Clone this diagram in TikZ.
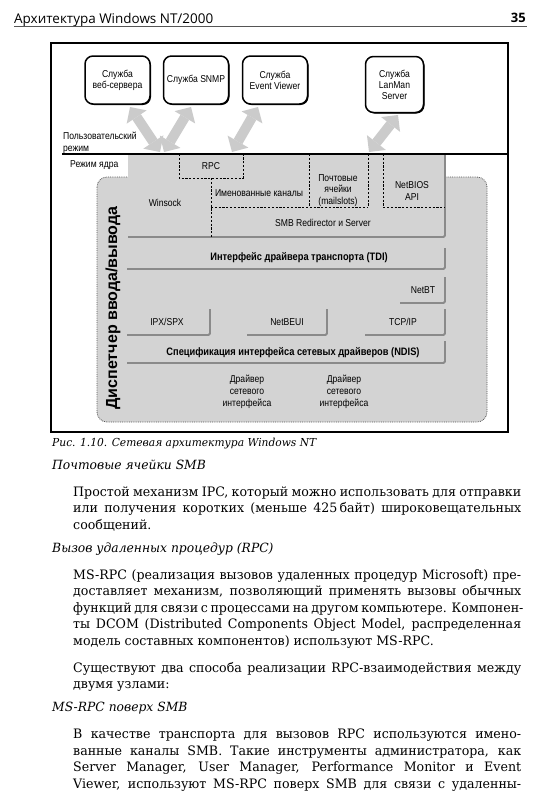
\documentclass[tikz,border=0pt]{standalone}
\usepackage{fontspec}
\usetikzlibrary{arrows.meta,shadows}
\setmainfont{DejaVu Serif}[FakeStretch=0.97]
\newfontfamily\diagfont{Liberation Sans}[FakeStretch=0.86]
\newfontfamily\diagwide{Liberation Sans}
\newfontfamily\headfont{Open Sans}
\definecolor{kgray}{HTML}{D3D3D3}
\definecolor{agray}{HTML}{CBCBCB}
\definecolor{sgray}{HTML}{8A8A8A}
\definecolor{dgray}{HTML}{555555}
\tikzset{
  svc/.style={draw=black, line width=1.5pt, rounded corners=8pt, fill=white,
    font=\diagfont\fontsize{10}{11}\selectfont, align=center, inner sep=0pt,
    minimum width=65pt, minimum height=48pt,
    drop shadow={shadow xshift=1pt, shadow yshift=-1pt, fill=black, opacity=1}},
  lbl/.style={font=\diagfont\fontsize{10}{12}\selectfont, align=center, inner sep=0pt},
  blbl/.style={font=\diagfont\bfseries\fontsize{10.8}{12}\selectfont, align=center, inner sep=0pt},
  garrow/.style={draw=agray, line width=10pt,
    {Triangle[length=12pt,width=24pt,line width=0pt]}-{Triangle[length=12pt,width=24pt,line width=0pt]}},
  shade/.style={draw=sgray, line width=1.8pt, rounded corners=1.5pt},
  dsh/.style={draw=black, line width=0.6pt, dash pattern=on 2.2pt off 1.6pt},
  bodyline/.style={anchor=base west, inner sep=0pt, font=\fontsize{13}{15}\selectfont},
  itline/.style={anchor=base west, inner sep=0pt, font=\itshape\fontsize{12.7}{15}\selectfont},
}
\newcommand\jline[1]{\makebox[448pt][s]{#1}}
\begin{document}
\begin{tikzpicture}[x=1pt,y=-1pt]
\useasboundingbox (0,0) rectangle (540,795);
\fill[white] (0,0) rectangle (540,795);

% header
\node[anchor=base west, inner sep=0pt] (hdr) at (14,23) {\resizebox{199pt}{!}{\headfont Архитектура Windows NT/2000}};
\node[anchor=base east, inner sep=0pt] (pgno) at (526,23) {\headfont\bfseries\fontsize{13}{15}\selectfont 35};
\draw[line width=1.2pt, dgray] (14,26.5) -- (527,26.5);

% frame
\draw[line width=1.1pt] (51,43) rectangle (508,432);

% kernel container
\draw[draw=dgray, densely dotted, line width=0.8pt, fill=kgray, rounded corners=10pt] (97,177) rectangle (487,422);
\fill[kgray] (128,154) rectangle (445,237);

% shading lines of layers
\draw[shade] (128,237) -- (445,237) -- (445,154);
\draw[shade] (127,269) -- (445,269) -- (445,248);
\draw[shade] (400,303) -- (445,303) -- (445,277);
\draw[shade] (127,335) -- (210,335) -- (210,309);
\draw[shade] (247,335) -- (327,335) -- (327,309);
\draw[shade] (365,335) -- (445,335) -- (445,309);
\draw[shade] (127,363) -- (445,363) -- (445,341);

% dashed partitions
\draw[dsh] (179,154) -- (179,178) -- (243,178) -- (243,154);
\draw[dsh] (211,178) -- (211,237);
\draw[dsh] (211,207) -- (368,207);
\draw[dsh] (309,154) -- (309,207);
\draw[dsh] (368,154) -- (368,207);
\draw[dsh] (383,154) -- (383,207) -- (445,207);

% user/kernel boundary
\draw[line width=1.3pt] (62,154) -- (508,154);

% service boxes
\node[svc] (web) at (117.5,80) {Служба\\веб-сервера};
\node[svc] (snmp) at (196,80) {Служба SNMP};
\node[svc] (ev) at (275,80) {Служба\\Event Viewer};
\node[svc, minimum width=58pt, minimum height=56pt] (lan) at (394.5,84.5) {Служба\\LanMan\\Server};

% arrows
\coordinate (a1s) at (130,107); \coordinate (a1e) at (160,152);
\coordinate (a2s) at (191,107); \coordinate (a2e) at (164,152);
\coordinate (a3s) at (258,107); \coordinate (a3e) at (232,152);
\coordinate (a4s) at (398,115); \coordinate (a4e) at (369,152);
\draw[garrow] (a1s) -- (a1e);
\draw[garrow] (a2s) -- (a2e);
\draw[garrow] (a3s) -- (a3e);
\draw[garrow] (a4s) -- (a4e);

% mode labels
\node[lbl, anchor=base west] (um1) at (63,139) {Пользовательский};
\node[lbl, anchor=base west] (um2) at (63,151) {режим};
\node[lbl, anchor=west] (km) at (70,165) {Режим ядра};

% block labels
\node[lbl] (rpc) at (211,166) {RPC};
\node[lbl] (wsock) at (165,203) {Winsock};
\node[lbl] (pipes) at (259,193) {Именованные каналы};
\node[lbl, font=\diagfont\fontsize{10}{11.5}\selectfont] (mslot) at (338,190.5) {Почтовые\\ячейки\\(mailslots)};
\node[lbl] (nbapi) at (412,191) {NetBIOS\\API};
\node[lbl] (smb) at (323,223) {SMB Redirector и Server};
\node[blbl] (tdi) at (299,258) {Интерфейс драйвера транспорта (TDI)};
\node[lbl] (netbt) at (423,290) {NetBT};
\node[lbl] (ipx) at (167,322) {IPX/SPX};
\node[lbl] (nbeui) at (287,322) {NetBEUI};
\node[lbl] (tcpip) at (403,322) {TCP/IP};
\node[blbl] (ndis) at (293,353) {Спецификация интерфейса сетевых драйверов (NDIS)};
\node[lbl] (drv1) at (247,392) {Драйвер\\сетевого\\интерфейса};
\node[lbl] (drv2) at (344,392) {Драйвер\\сетевого\\интерфейса};
\node[rotate=90, inner sep=0pt, font=\diagwide\bfseries\fontsize{16}{18}\selectfont] (iom) at (113,308) {Диспетчер ввода/вывода};

% caption and body text
\node[anchor=base west, inner sep=0pt, font=\itshape\fontsize{11}{13}\selectfont] (cap) at (52,446) {Рис. 1.10. Сетевая архитектура Windows NT};
\node[itline] (h1) at (52,469) {Почтовые ячейки SMB};
\node[bodyline] (p1a) at (73,496) {\jline{Простой механизм IPC, который можно использовать для отправки}};
\node[bodyline] (p1b) at (73,512.5) {\jline{или получения коротких (меньше 425\,байт) широковещательных}};
\node[bodyline] (p1c) at (73,529) {сообщений.};
\node[itline] (h2) at (52,552) {Вызов удаленных процедур (RPC)};
\node[bodyline] (p2a) at (73,579) {\jline{MS-RPC (реализация вызовов удаленных процедур Microsoft) пре-}};
\node[bodyline] (p2b) at (73,595.5) {\jline{доставляет механизм, позволяющий применять вызовы обычных}};
\node[bodyline] (p2c) at (73,612) {\jline{функций для связи с процессами на другом компьютере. Компонен-}};
\node[bodyline] (p2d) at (73,628.5) {\jline{ты DCOM (Distributed Components Object Model, распределенная}};
\node[bodyline] (p2e) at (73,645) {модель составных компонентов) используют MS-RPC.};
\node[bodyline] (p3a) at (73,672) {\jline{Существуют два способа реализации RPC-взаимодействия между}};
\node[bodyline] (p3b) at (73,688.5) {двумя узлами:};
\node[itline] (h3) at (52,711.5) {MS-RPC поверх SMB};
\node[bodyline] (p4a) at (73,738.5) {\jline{В качестве транспорта для вызовов RPC используются имено-}};
\node[bodyline] (p4b) at (73,755) {\jline{ванные каналы SMB. Такие инструменты администратора, как}};
\node[bodyline] (p4c) at (73,771.5) {\jline{Server Manager, User Manager, Performance Monitor и Event}};
\node[bodyline] (p4d) at (73,788) {\jline{Viewer, используют MS-RPC поверх SMB для связи с удаленны-}};
\end{tikzpicture}
\end{document}
